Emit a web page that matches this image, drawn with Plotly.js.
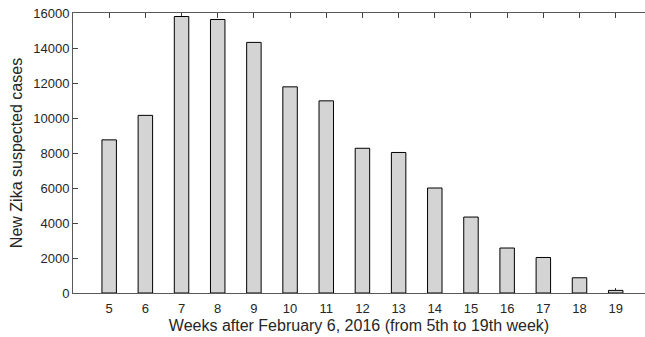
<!DOCTYPE html>
<html>
<head>
<meta charset="utf-8">
<script src="https://cdn.plot.ly/plotly-3.0.1.min.js"></script>
<style>html,body{margin:0;padding:0;background:#fff;}#chart{width:645px;height:337px;}</style>
</head>
<body>
<div id="chart"></div>
<script>
var weeks = [5, 6, 7, 8, 9, 10, 11, 12, 13, 14, 15, 16, 17, 18, 19];
var cases = [8750, 10150, 15800, 15630, 14320, 11780, 10980, 8270, 8030, 6000, 4340, 2570, 2030, 870, 150];
var yTicks = [0, 2000, 4000, 6000, 8000, 10000, 12000, 14000, 16000];
var xTitle = "Weeks after February 6, 2016 (from 5th to 19th week)";
var yTitle = "New Zika suspected cases";

var font = "Liberation Sans, Arial, Helvetica, sans-serif";
var textColor = "#262626";

Plotly.newPlot("chart", [{
  type: "bar",
  x: weeks,
  y: cases,
  width: 0.4,
  marker: {color: "#d4d4d5", line: {color: "#000000", width: 1}},
  hoverinfo: "x+y"
}], {
  width: 645, height: 337,
  margin: {l: 73, r: 0, t: 12.5, b: 44},
  paper_bgcolor: "#ffffff",
  plot_bgcolor: "#ffffff",
  showlegend: false,
  font: {family: font, color: textColor, size: 13},
  xaxis: {
    range: [4, 19.81],
    tickvals: weeks,
    ticktext: weeks.map(String),
    ticks: "inside", ticklen: 5, tickwidth: 1, tickcolor: "#404040",
    showline: true, linecolor: "#595959", linewidth: 1,
    mirror: "ticks",
    showgrid: false, zeroline: false,
    layer: "below traces",
    ticklabelstandoff: 3,
    tickfont: {size: 13, color: textColor},
    title: {text: xTitle, font: {size: 16, color: textColor}, standoff: 5}
  },
  yaxis: {
    range: [0, 16000],
    tickvals: yTicks,
    ticktext: yTicks.map(String),
    ticks: "inside", ticklen: 5, tickwidth: 1, tickcolor: "#404040",
    showline: true, linecolor: "#595959", linewidth: 1,
    mirror: false,
    showgrid: false, zeroline: false,
    layer: "below traces",
    tickfont: {size: 13, color: textColor},
    title: {text: yTitle, font: {size: 16, color: textColor}, standoff: 6}
  },
  bargap: 0
}, {displayModeBar: false, staticPlot: true});
</script>
</body>
</html>
